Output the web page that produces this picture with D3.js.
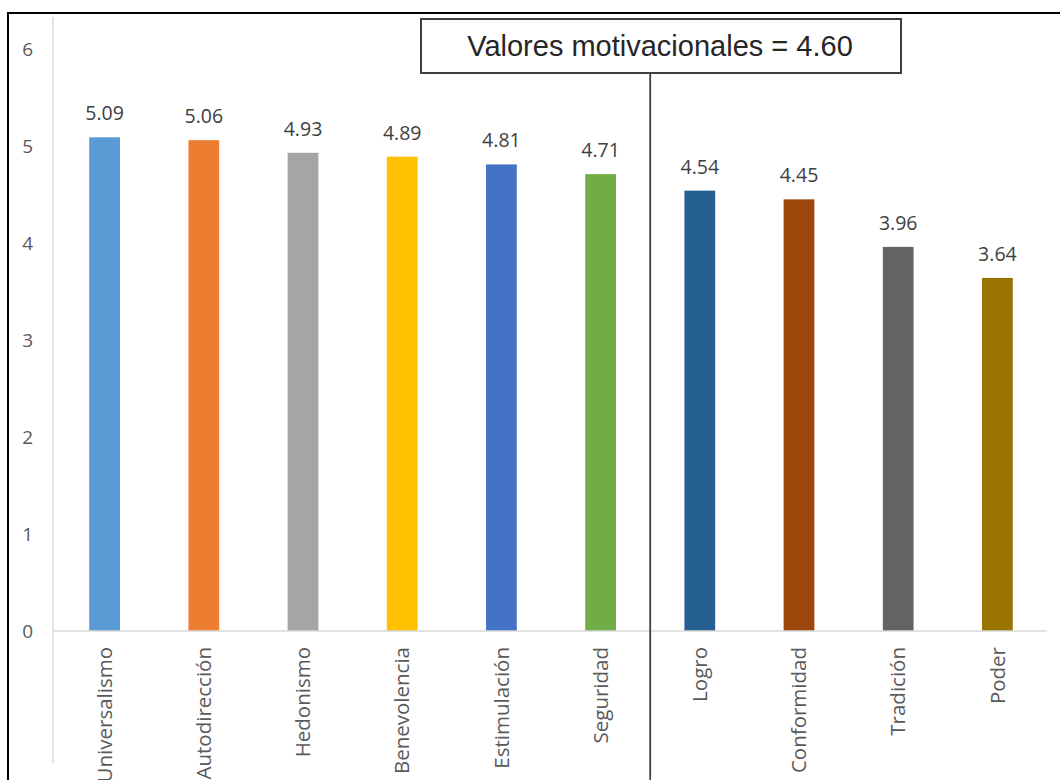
<!DOCTYPE html>
<html><head><meta charset="utf-8">
<script src="https://cdn.jsdelivr.net/npm/d3@7"></script>
<style>html,body{margin:0;padding:0;background:#fff;}svg{display:block;}</style>
</head><body>
<svg id="chart" width="1060" height="780"></svg>
<script>
const categories = ["Universalismo","Autodirección","Hedonismo","Benevolencia","Estimulación","Seguridad","Logro","Conformidad","Tradición","Poder"];
const values = [5.09,5.06,4.93,4.89,4.81,4.71,4.54,4.45,3.96,3.64];
const colors = ["#5B9BD5","#ED7D31","#A5A5A5","#FFC000","#4472C4","#70AD47","#255E91","#9E480E","#636363","#997300"];
const yTicks = [0,1,2,3,4,5,6];
const annotationText = "Valores motivacionales = 4.60";

const svg = d3.select("#chart");
const x = d3.scaleBand().domain(categories).range([55, 1047]).paddingInner(0.69).paddingOuter(0.345);
const y = d3.scaleLinear().domain([0, 6]).range([631, 49]);
const font = "'Open Sans', 'Noto Sans', sans-serif";

// outer frame (top and left)
svg.append("line").attr("x1",7).attr("x2",1060).attr("y1",13).attr("y2",13).attr("stroke","#000").attr("stroke-width",2);
svg.append("line").attr("x1",8).attr("x2",8).attr("y1",12).attr("y2",780).attr("stroke","#000").attr("stroke-width",2);

// y axis line
svg.append("line").attr("x1",53).attr("x2",53).attr("y1",17).attr("y2",763).attr("stroke","#d9d9d9").attr("stroke-width",1.5);

// y tick labels via axis
const yAxis = d3.axisLeft(y).tickValues(yTicks).tickSize(0).tickPadding(0).tickFormat(d3.format("d"));
const gy = svg.append("g").attr("transform","translate(33,0)").call(yAxis);
gy.select(".domain").remove();
gy.selectAll("text").attr("font-family",font).attr("font-size",19).attr("fill","#595959").attr("text-anchor","end");

// bars
svg.append("g").selectAll("rect").data(categories).join("rect")
  .attr("x", d => x(d)).attr("width", x.bandwidth())
  .attr("y", (d,i) => y(values[i])).attr("height", (d,i) => y(0) - y(values[i]))
  .attr("fill", (d,i) => colors[i]);

// baseline
svg.append("line").attr("x1",53).attr("x2",1047).attr("y1",y(0)).attr("y2",y(0)).attr("stroke","#d9d9d9").attr("stroke-width",1.5);

// data labels
svg.append("g").selectAll("text").data(categories).join("text")
  .attr("x", d => x(d) + x.bandwidth()/2)
  .attr("y", (d,i) => y(values[i]) - 17)
  .attr("text-anchor","middle").attr("font-family",font).attr("font-size",19.5).attr("fill","#404040")
  .text((d,i) => values[i].toFixed(2));

// x axis category labels
const xAxis = d3.axisBottom(x).tickSize(0).tickPadding(0);
const gx = svg.append("g").attr("transform",`translate(0,${y(0)})`).call(xAxis);
gx.select(".domain").remove();
gx.selectAll("text")
  .attr("font-family",font).attr("font-size",20.5).attr("fill","#595959")
  .attr("text-anchor","end").attr("dy","0.35em")
  .attr("transform","translate(0,16) rotate(-90)")
  .attr("x",0).attr("y",0);

// divider line
const divX = (x(categories[5]) + x.bandwidth() + x(categories[6])) / 2;
svg.append("line").attr("x1",divX).attr("x2",divX).attr("y1",73).attr("y2",780).attr("stroke","#404040").attr("stroke-width",1.8);

// annotation box
svg.append("rect").attr("x",421).attr("y",19).attr("width",480).attr("height",54)
  .attr("fill","#fff").attr("stroke","#404040").attr("stroke-width",2);
svg.append("text").attr("x",660).attr("y",56).attr("text-anchor","middle")
  .attr("font-family","'Liberation Sans', Arial, sans-serif").attr("font-size",29).attr("fill","#262626")
  .text(annotationText);
</script>
</body></html>
